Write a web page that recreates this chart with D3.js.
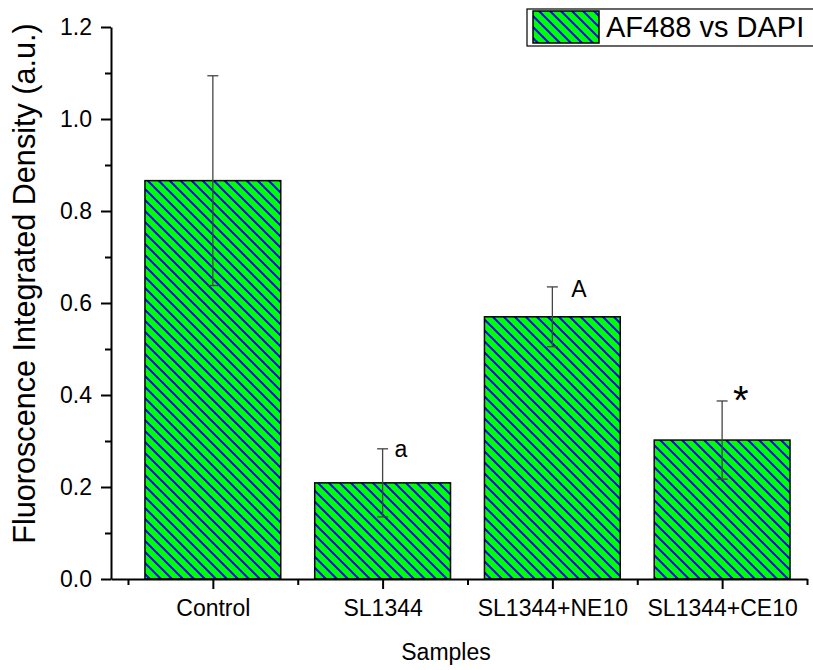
<!DOCTYPE html>
<html><head><meta charset="utf-8">
<script src="https://cdn.jsdelivr.net/npm/d3@7"></script>
<style>
html,body{margin:0;padding:0;background:#fff;}
svg text{font-family:"Liberation Sans",Arial,sans-serif;fill:#000;}
</style></head>
<body><svg id="chart" width="813" height="670"></svg>
<script>
const categories = ["Control", "SL1344", "SL1344+NE10", "SL1344+CE10"];
const values = [0.866, 0.209, 0.570, 0.302];
const errors = [0.228, 0.074, 0.065, 0.085];
const annotations = ["", "a", "A", "*"];
const yTicks = [0, 0.2, 0.4, 0.6, 0.8, 1.0, 1.2];
const yMinorTicks = [0.1, 0.3, 0.5, 0.7, 0.9, 1.1];
const xPositions = [1, 2, 3, 4];
const xMinorTicks = [0.5, 1.5, 2.5, 3.5, 4.5];
const legendLabel = "AF488 vs DAPI";
const xTitle = "Samples";
const yTitle = "Fluoroscence Integrated Density (a.u.)";

const svg = d3.select("#chart");
const x = d3.scaleLinear().domain([0.4, 4.5]).range([111, 807]);
const y = d3.scaleLinear().domain([0, 1.2]).range([579, 27]);

// hatch pattern
const defs = svg.append("defs");
const pat = defs.append("pattern").attr("id", "hatch")
  .attr("patternUnits", "userSpaceOnUse").attr("width", 11).attr("height", 11);
pat.append("rect").attr("width", 11).attr("height", 11).attr("fill", "#00ff00");
pat.append("path").attr("d", "M-1,-1 L12,12 M-1,10 L1,12 M10,-1 L12,1")
  .attr("stroke", "#0000ff").attr("stroke-width", 2);

const barW = x(1.8) - x(1);
// bars
svg.append("g").selectAll("rect").data(values).join("rect")
  .attr("x", (d, i) => x(xPositions[i]) - barW / 2)
  .attr("y", d => y(d))
  .attr("width", barW)
  .attr("height", d => y(0) - y(d))
  .attr("fill", "url(#hatch)")
  .attr("stroke", "#000").attr("stroke-width", 1.5);

// error bars
const eg = svg.append("g").attr("stroke", "#444").attr("stroke-width", 1.3);
values.forEach((v, i) => {
  const cx = x(xPositions[i]);
  const top = y(v + errors[i]), bot = y(v - errors[i]);
  eg.append("line").attr("x1", cx).attr("x2", cx).attr("y1", top).attr("y2", bot);
  eg.append("line").attr("x1", cx - 5.5).attr("x2", cx + 5.5).attr("y1", top).attr("y2", top);
  eg.append("line").attr("x1", cx - 5.5).attr("x2", cx + 5.5).attr("y1", bot).attr("y2", bot);
});

// annotations
const annDx = [0, 12, 19, 11];
const annDy = [0, 8, 10, 13];
annotations.forEach((t, i) => {
  if (!t) return;
  const cx = x(xPositions[i]);
  const top = y(values[i] + errors[i]);
  svg.append("text").attr("x", cx + annDx[i]).attr("y", top + annDy[i])
    .attr("font-size", t === "*" ? 40 : 23)
    .text(t);
});

// y axis
svg.append("g").attr("transform", "translate(111,0)")
  .call(d3.axisLeft(y).tickValues(yTicks).tickFormat(d3.format(".1f")).tickSize(10).tickSizeOuter(0).tickPadding(9));
svg.append("g").attr("transform", "translate(111,0)")
  .call(d3.axisLeft(y).tickValues(yMinorTicks).tickFormat("").tickSize(6).tickSizeOuter(0))
  .call(g => g.select(".domain").remove());

// x axis
svg.append("g").attr("transform", "translate(0,579)")
  .call(d3.axisBottom(x).tickValues(xPositions).tickFormat((d, i) => categories[i]).tickSize(10).tickSizeOuter(0).tickPadding(11));
svg.append("g").attr("transform", "translate(0,579)")
  .call(d3.axisBottom(x).tickValues(xMinorTicks).tickFormat("").tickSize(6).tickSizeOuter(0))
  .call(g => g.select(".domain").remove());

svg.selectAll(".domain").attr("stroke", "#000").attr("stroke-width", 2);
svg.selectAll(".tick line").attr("stroke", "#000").attr("stroke-width", 2);
svg.selectAll(".tick text").attr("font-size", 23).attr("font-family", "Liberation Sans, Arial, sans-serif").attr("fill", "#000");

// titles
svg.append("text").attr("x", 446).attr("y", 660).attr("text-anchor", "middle")
  .attr("font-size", 23).text(xTitle);
svg.append("text").attr("transform", "translate(35,283.5) rotate(-90)").attr("text-anchor", "middle")
  .attr("font-size", 30.6).text(yTitle);

// legend
const lg = svg.append("g");
lg.append("rect").attr("x", 527).attr("y", 9).attr("width", 320).attr("height", 37)
  .attr("fill", "#fff").attr("stroke", "#000").attr("stroke-width", 1.2);
lg.append("rect").attr("x", 533).attr("y", 11).attr("width", 66).attr("height", 32)
  .attr("fill", "url(#hatch)").attr("stroke", "#000").attr("stroke-width", 1.5);
lg.append("text").attr("x", 606).attr("y", 37).attr("font-size", 29).text(legendLabel);
</script></body></html>
